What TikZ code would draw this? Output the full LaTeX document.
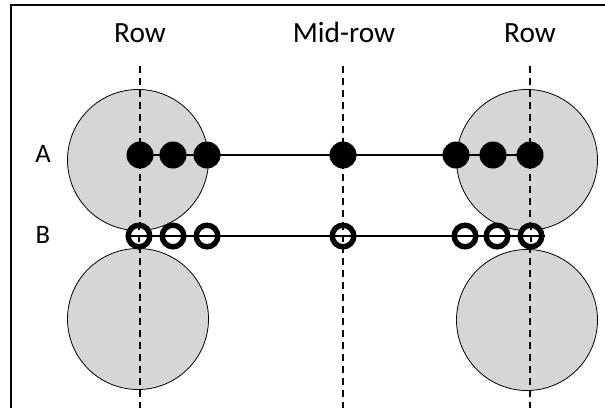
\documentclass[tikz,border=0pt]{standalone}
\usepackage{fontspec}
\setmainfont{Carlito}
\definecolor{bigfill}{HTML}{D6D6D6}
\begin{document}
\begin{tikzpicture}[x=0.75pt,y=-0.75pt,
  big/.style={circle,draw=black,line width=0.6pt,fill=bigfill,minimum size=141*0.75pt,inner sep=0pt},
  full/.style={circle,fill=black,minimum size=27*0.75pt,inner sep=0pt},
  hollow/.style={circle,draw=black,fill=white,line width=5.4*0.75pt,minimum size=21.6*0.75pt,inner sep=0pt},
  guide/.style={dashed,dash pattern=on 7*0.75pt off 5*0.75pt,line width=0.8pt},
  link/.style={line width=0.9pt},
  lbl/.style={font=\fontsize{22}{26}\selectfont,inner sep=0pt,anchor=base},
  side/.style={font=\fontsize{20}{24}\selectfont,inner sep=0pt,anchor=base}]
\useasboundingbox (0,0) rectangle (605,407);
% frame
\draw[line width=1.6pt] (11,410) -- (11,5) -- (610,5);
% big circles
\node[big] (c1) at (138,160) {};
\node[big] (c2) at (138,319) {};
\node[big] (c3) at (527,160) {};
\node[big] (c4) at (527,320) {};
% labels
\node[lbl] (r1) at (140,42) {Row};
\node[lbl] (r2) at (344,42) {Mid-row};
\node[lbl] (r3) at (530,42) {Row};
\node[side] (la) at (43,162) {A};
\node[side] (lb) at (43,243) {B};
% dashed guides
\coordinate (g1t) at (140,66); \coordinate (g1b) at (140,410);
\coordinate (g2t) at (343,66); \coordinate (g2b) at (343,410);
\coordinate (g3t) at (530,66); \coordinate (g3b) at (530,410);
\draw[guide] (g1t) -- (g1b);
\draw[guide] (g2t) -- (g2b);
\draw[guide] (g3t) -- (g3b);
% row A
\coordinate (a0) at (140,155); \coordinate (a9) at (530,155);
\draw[link] (a0) -- (a9);
\node[full] (a1) at (140,155) {};
\node[full] (a2) at (173,155) {};
\node[full] (a3) at (207,155) {};
\node[full] (am) at (343,155) {};
\node[full] (a4) at (456,155) {};
\node[full] (a5) at (493,155) {};
\node[full] (a6) at (530,155) {};
% row B
\node[hollow] (b1) at (139,236) {};
\node[hollow] (b2) at (173,236) {};
\node[hollow] (b3) at (207,236) {};
\node[hollow] (bm) at (343,236) {};
\node[hollow] (b4) at (465,236) {};
\node[hollow] (b5) at (497,236) {};
\node[hollow] (b6) at (531,236) {};
% lines visible through hollow circles
\draw[link] (b1.west) -- (b6.east);
\draw[guide] (b1.north) -- (b1.south);
\draw[guide] (bm.north) -- (bm.south);
\draw[guide] (b6.north) -- (b6.south);
\end{tikzpicture}
\end{document}
